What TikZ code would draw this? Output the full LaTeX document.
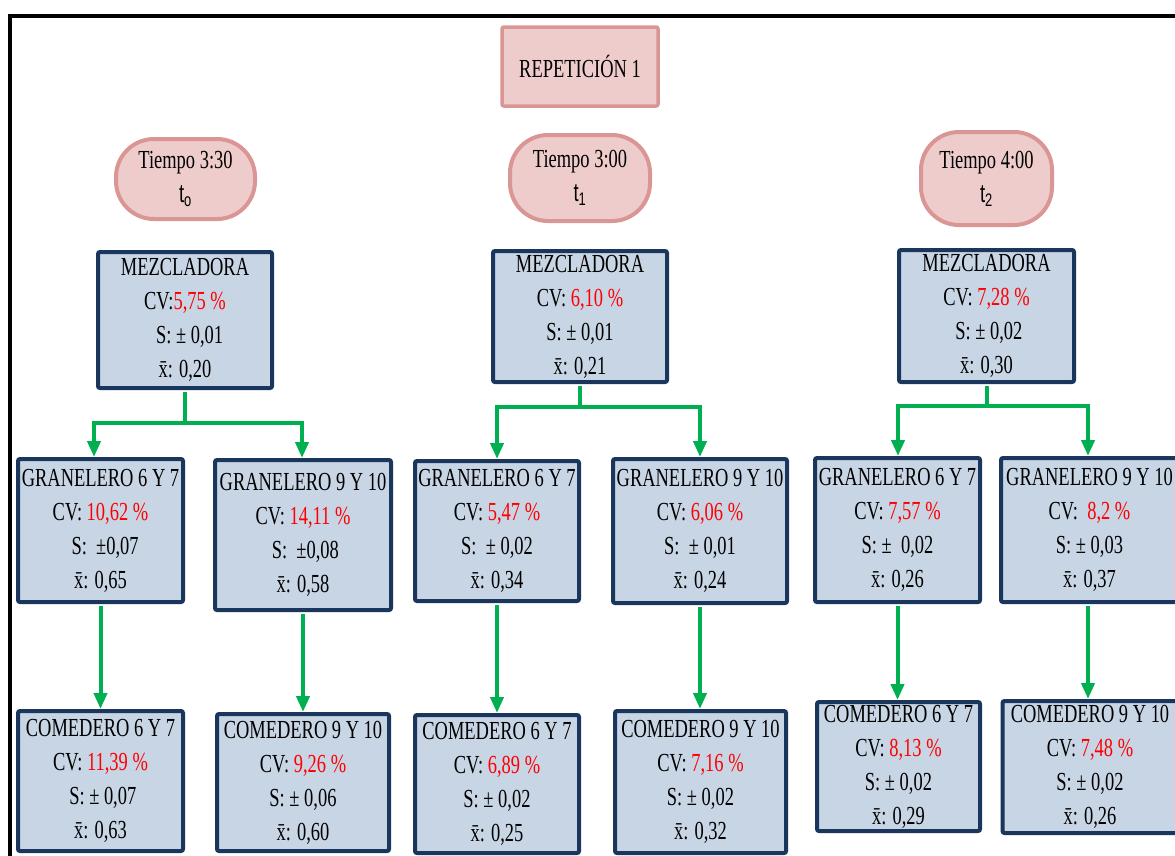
\documentclass[tikz,border=0pt]{standalone}
\usepackage{fontspec}
\setmainfont[FakeStretch=0.71]{Liberation Serif}
\newfontfamily\subfont[FakeStretch=0.71]{Liberation Sans}
\usetikzlibrary{arrows.meta}

\definecolor{datafill}{HTML}{C8D5E5}
\definecolor{dataline}{HTML}{1B365D}
\definecolor{pinkfill}{HTML}{EECCCB}
\definecolor{pinkline}{HTML}{D99694}
\definecolor{flowgreen}{HTML}{00B050}
\definecolor{cvred}{HTML}{FF0000}

\newcommand\cvval[1]{\textcolor{cvred}{#1}}

\tikzset{
  txt/.style={font=\fontsize{26}{34}\selectfont, align=center, inner sep=0pt},
  databox/.style={txt, draw=dataline, fill=datafill, line width=4pt, rounded corners=2pt},
  titlebox/.style={txt, draw=pinkline, fill=pinkfill, line width=3.5pt, rounded corners=2pt},
  timebox/.style={txt, draw=pinkline, fill=pinkfill, line width=4pt, rounded corners=38pt},
  flow/.style={draw=flowgreen, line width=4pt, shorten <=2pt,
    -{Triangle[width=13pt,length=16pt]}},
  frame/.style={line width=4pt, draw=black, line join=miter}
}

\begin{document}
\begin{tikzpicture}[x=1pt,y=-1pt]
\useasboundingbox (0,0) rectangle (1175,855);

% outer frame
\draw[frame] (10,870) -- (10,16) -- (1190,16);

% heading
\node[titlebox, minimum width=156pt, minimum height=79pt] (rep) at (580,66.5) {REPETICIÓN 1};

% time labels
\node[timebox, minimum width=139pt, minimum height=80pt] (t0) at (185.5,179)
  {Tiempo 3:30\\{\subfont t\textsubscript{o}}};
\node[timebox, minimum width=140pt, minimum height=86pt] (t1) at (580,178)
  {Tiempo 3:00\\{\subfont t\textsubscript{1}}};
\node[timebox, minimum width=131pt, minimum height=93pt] (t2) at (986.5,178.5)
  {Tiempo 4:00\\{\subfont t\textsubscript{2}}};

% mixers
\node[databox, minimum width=174pt, minimum height=136pt] (mez1) at (185,320)
  {MEZCLADORA\\CV:\cvval{5,75 \%}\\\ \ S: ± 0,01\\\=x: 0,20};
\node[databox, minimum width=174pt, minimum height=131pt] (mez2) at (580,316.5)
  {MEZCLADORA\\CV: \cvval{6,10 \%}\\S: ± 0,01\\\=x: 0,21};
\node[databox, minimum width=175pt, minimum height=132pt] (mez3) at (986.5,316)
  {MEZCLADORA\\CV: \cvval{7,28 \%}\\\ S: ± 0,02\\\=x: 0,30};

% bulk bins
\node[databox, minimum width=165pt, minimum height=143pt] (g1) at (100.5,530.5)
  {GRANELERO 6 Y 7\\CV: \cvval{10,62 \%}\\\ \ S: \ ±0,07\\\=x: 0,65};
\node[databox, minimum width=176pt, minimum height=150pt] (g2) at (303,535)
  {GRANELERO 9 Y 10\\CV: \cvval{14,11 \%}\\\ S: \ ±0,08\\\=x: 0,58};
\node[databox, minimum width=164pt, minimum height=140pt] (g3) at (497,531)
  {GRANELERO 6 Y 7\\CV: \cvval{5,47 \%}\\S: \ ± 0,02\\\=x: 0,34};
\node[databox, minimum width=174pt, minimum height=144pt] (g4) at (700,531)
  {GRANELERO 9 Y 10\\CV: \cvval{6,06 \%}\\S: \ ± 0,01\\\=x: 0,24};
\node[databox, minimum width=165pt, minimum height=144pt] (g5) at (897.5,530)
  {GRANELERO 6 Y 7\\CV: \cvval{7,57 \%}\\S: ± \ 0,02\\\=x: 0,26};
\node[databox, minimum width=177pt, minimum height=144pt] (g6) at (1089.5,530)
  {GRANELERO 9 Y 10\\CV: \ \cvval{8,2 \%}\\S: ± 0,03\\\=x: 0,37};

% feeders
\node[databox, minimum width=165pt, minimum height=140pt] (c1) at (100.5,781)
  {COMEDERO 6 Y 7\\CV: \cvval{11,39 \%}\\\ S: ± 0,07\\\=x: 0,63};
\node[databox, minimum width=172pt, minimum height=137pt] (c2) at (303,782.5)
  {COMEDERO 9 Y 10\\CV: \cvval{9,26 \%}\\S: ± 0,06\\\=x: 0,60};
\node[databox, minimum width=164pt, minimum height=138pt] (c3) at (497,784)
  {COMEDERO 6 Y 7\\CV: \cvval{6,89 \%}\\S: ± 0,02\\\=x: 0,25};
\node[databox, minimum width=171pt, minimum height=142pt] (c4) at (700.5,782)
  {COMEDERO 9 Y 10\\CV: \cvval{7,16 \%}\\S: ± 0,02\\\=x: 0,32};
\node[databox, minimum width=163pt, minimum height=129pt] (c5) at (898.5,766.5)
  {COMEDERO 6 Y 7\\CV: \cvval{8,13 \%}\\S: ± 0,02\\\=x: 0,29};
\node[databox, minimum width=175pt, minimum height=132pt] (c6) at (1090,767)
  {COMEDERO 9 Y 10\\CV: \cvval{7,48 \%}\\S: ± 0,02\\\=x: 0,26};

% mixer -> bulk bins
\draw[flow] (mez1.south) -- ++(0,33) -| ([xshift=-6.5pt]g1.north);
\draw[flow] (mez1.south) -- ++(0,33) -| ([xshift=-1pt]g2.north);
\draw[flow] (mez2.south) -- ++(0,23) -| (g3.north);
\draw[flow] (mez2.south) -- ++(0,23) -| (g4.north);
\draw[flow] (mez3.south) -- ++(0,22) -| ([xshift=0.5pt]g5.north);
\draw[flow] (mez3.south) -- ++(0,22) -| ([xshift=-1.5pt]g6.north);

% bulk bins -> feeders
\draw[flow] (g1.south) -- (g1.south |- c1.north);
\draw[flow] (g2.south) -- (g2.south |- c2.north);
\draw[flow] (g3.south) -- (g3.south |- c3.north);
\draw[flow] (g4.south) -- (g4.south |- c4.north);
\draw[flow] (g5.south) -- (g5.south |- c5.north);
\draw[flow] ([xshift=-1.5pt]g6.south) -- ([xshift=-1.5pt]g6.south |- c6.north);
\end{tikzpicture}
\end{document}
